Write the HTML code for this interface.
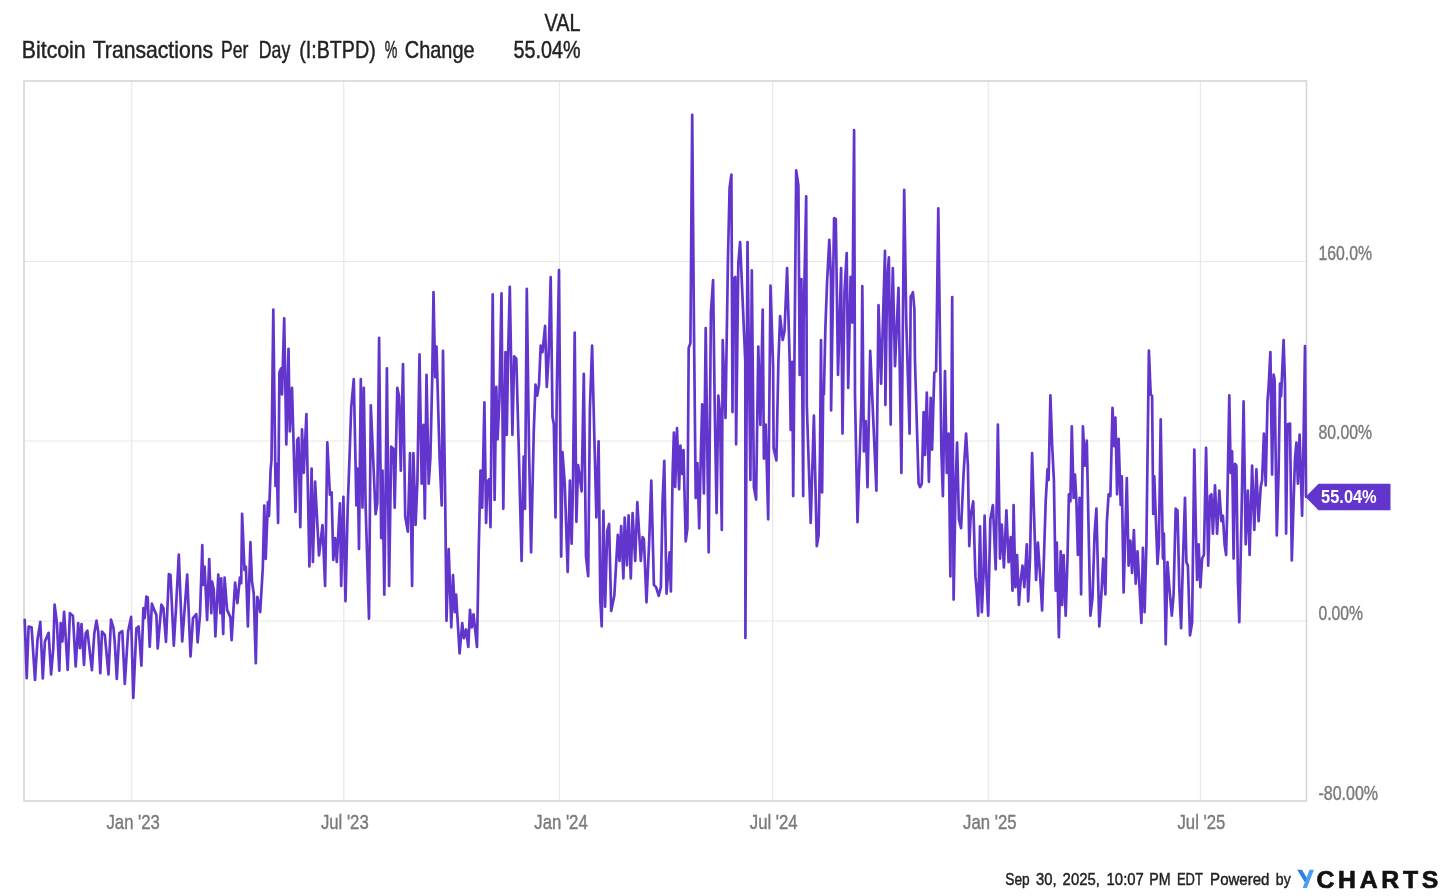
<!DOCTYPE html>
<html><head><meta charset="utf-8"><title>Bitcoin Transactions Per Day</title>
<style>
html,body{margin:0;padding:0;background:#fff;}
body{width:1446px;height:896px;overflow:hidden;}
svg{display:block;filter:blur(0.45px);}
text{font-family:"Liberation Sans",sans-serif;}
</style></head><body>
<svg width="1446" height="896" viewBox="0 0 1446 896">
<rect width="1446" height="896" fill="#ffffff"/>
<line x1="131.7" y1="81" x2="131.7" y2="801" stroke="#e8e8e8" stroke-width="1.2"/>
<line x1="343.8" y1="81" x2="343.8" y2="801" stroke="#e8e8e8" stroke-width="1.2"/>
<line x1="559.5" y1="81" x2="559.5" y2="801" stroke="#e8e8e8" stroke-width="1.2"/>
<line x1="772.7" y1="81" x2="772.7" y2="801" stroke="#e8e8e8" stroke-width="1.2"/>
<line x1="988.3" y1="81" x2="988.3" y2="801" stroke="#e8e8e8" stroke-width="1.2"/>
<line x1="1200.4" y1="81" x2="1200.4" y2="801" stroke="#e8e8e8" stroke-width="1.2"/>
<line x1="24" y1="261.5" x2="1306.5" y2="261.5" stroke="#e8e8e8" stroke-width="1.2"/>
<line x1="24" y1="441" x2="1306.5" y2="441" stroke="#e8e8e8" stroke-width="1.2"/>
<line x1="24" y1="621" x2="1306.5" y2="621" stroke="#e8e8e8" stroke-width="1.2"/>
<rect x="24" y="81" width="1282.5" height="720" fill="none" stroke="#d6d6d6" stroke-width="1.6"/>
<path d="M24.7 619.9 L26.7 678.1 L28.6 626.5 L31.6 627.4 L35.0 679.8 L37.5 639.8 L40.3 621.9 L42.8 678.4 L44.9 641.5 L48.6 632.8 L51.1 674.4 L53.3 648.1 L54.6 604.6 L56.9 623.2 L59.3 670.6 L60.7 623.2 L62.4 641.5 L64.1 611.9 L67.7 669.8 L69.9 613.2 L72.9 615.7 L75.7 666.4 L78.2 623.2 L79.9 648.1 L81.5 624.0 L84.0 664.8 L85.7 633.2 L87.4 630.7 L89.0 644.8 L91.9 670.1 L94.3 633.2 L96.5 620.7 L98.2 631.5 L100.3 673.1 L102.0 631.5 L104.8 634.8 L108.5 674.4 L111.0 619.5 L113.5 628.2 L114.8 643.2 L116.8 678.9 L119.3 633.2 L122.3 631.2 L124.8 683.9 L128.1 631.5 L131.1 616.9 L133.3 698.0 L136.4 628.2 L138.6 626.5 L141.4 665.6 L143.4 608.2 L144.7 618.2 L146.4 596.6 L147.7 597.4 L149.7 646.8 L151.9 603.6 L153.9 609.1 L156.4 614.9 L157.7 648.5 L161.4 604.6 L163.4 608.2 L166.0 641.8 L168.9 574.1 L170.5 575.0 L173.8 645.7 L176.0 608.2 L178.8 554.7 L182.2 641.5 L184.7 608.2 L187.2 574.6 L190.5 656.5 L193.0 618.2 L196.3 614.1 L197.6 642.3 L200.0 614.9 L202.3 545.2 L203.0 584.9 L204.6 566.7 L207.1 619.9 L209.2 559.1 L211.3 613.2 L212.1 581.6 L213.8 589.9 L215.4 636.5 L218.3 574.6 L220.4 613.2 L221.2 578.3 L223.2 634.0 L224.6 577.5 L227.1 609.9 L230.4 617.4 L231.6 640.2 L235.1 582.5 L237.4 603.2 L239.9 577.5 L241.2 583.3 L242.1 513.8 L244.5 570.0 L245.9 566.7 L247.9 626.5 L250.4 542.2 L252.0 581.6 L253.7 593.3 L255.8 663.1 L257.2 596.9 L257.5 597.4 L260.2 612.1 L262.8 568.0 L264.3 505.5 L265.7 559.0 L267.9 502.0 L269.0 516.0 L270.6 470.0 L271.5 460.0 L273.3 309.6 L275.5 485.9 L276.8 464.1 L278.1 522.9 L279.4 372.7 L281.1 368.3 L282.0 394.5 L284.2 318.3 L286.3 444.5 L288.5 348.8 L289.8 431.5 L292.0 387.9 L295.5 512.0 L297.2 440.2 L298.5 438.0 L300.3 527.2 L302.0 429.3 L303.8 472.8 L306.4 414.1 L309.4 566.4 L311.6 468.5 L312.9 562.0 L315.1 481.5 L319.0 555.5 L322.5 525.0 L325.1 586.0 L327.3 442.3 L329.9 494.6 L331.6 492.4 L333.3 559.9 L335.1 538.1 L336.8 562.0 L339.9 503.3 L341.2 586.0 L343.4 496.8 L345.5 601.2 L347.7 507.6 L349.5 457.6 L351.2 407.5 L353.8 379.2 L356.4 505.5 L357.7 468.5 L359.0 549.0 L360.8 379.2 L362.5 507.6 L363.8 387.9 L365.6 505.5 L369.0 618.6 L370.8 405.3 L373.4 464.1 L375.6 514.2 L377.3 503.3 L379.1 337.9 L381.2 538.1 L382.5 470.6 L384.3 594.7 L385.6 494.6 L386.9 368.3 L389.1 586.0 L391.2 446.7 L393.4 448.9 L394.7 507.6 L397.3 387.9 L399.1 396.6 L400.8 470.6 L403.0 364.0 L405.2 516.3 L407.8 531.6 L410.0 453.2 L412.1 586.0 L413.4 453.2 L415.6 525.0 L417.4 481.5 L419.5 354.4 L421.7 483.7 L423.5 424.9 L424.8 518.5 L426.5 374.9 L428.7 483.7 L430.4 457.6 L432.2 379.2 L433.5 292.2 L435.2 377.1 L436.5 346.6 L438.3 411.9 L439.6 457.6 L441.7 505.5 L443.0 350.9 L445.2 498.9 L446.5 620.8 L448.7 549.0 L451.3 627.3 L453.0 575.1 L454.8 612.1 L456.1 594.7 L459.6 653.5 L462.2 623.0 L463.9 638.2 L466.1 629.5 L468.3 646.9 L470.0 609.9 L471.8 627.3 L473.5 614.3 L477.0 646.9 L478.7 551.2 L480.5 470.6 L482.2 507.6 L484.4 402.3 L486.1 522.9 L487.4 481.5 L489.2 479.3 L490.5 527.2 L492.7 294.4 L494.6 500.0 L496.3 386.9 L497.6 439.1 L499.4 399.9 L501.5 293.3 L503.3 508.8 L505.5 352.1 L506.8 434.8 L508.1 354.2 L509.8 286.8 L512.4 434.8 L514.2 356.4 L516.3 358.6 L518.5 439.1 L521.6 561.0 L523.7 456.5 L525.0 508.8 L526.8 288.9 L529.0 447.8 L531.1 552.3 L533.8 430.4 L535.5 384.7 L537.2 395.6 L539.0 384.7 L540.7 345.5 L542.5 352.1 L545.1 325.9 L546.8 386.9 L548.6 356.4 L550.7 277.2 L552.5 417.3 L553.8 423.9 L555.5 517.5 L556.8 391.2 L559.0 270.2 L561.2 556.6 L562.5 452.2 L564.7 482.6 L567.7 571.9 L569.9 480.5 L571.6 543.6 L572.9 491.3 L574.7 332.5 L576.4 521.8 L578.1 465.2 L579.9 478.3 L581.6 491.3 L583.8 373.8 L586.0 556.6 L588.2 576.2 L589.9 408.6 L592.1 345.5 L594.3 434.8 L596.4 517.5 L598.6 441.3 L600.3 600.2 L601.7 626.3 L603.4 510.9 L605.1 606.7 L607.3 530.5 L609.1 524.0 L611.2 611.0 L614.3 595.8 L617.8 534.9 L619.5 561.0 L621.2 526.2 L623.4 578.4 L624.7 517.5 L626.9 565.3 L628.6 515.3 L630.8 578.4 L632.6 513.1 L635.2 561.0 L637.3 502.2 L640.8 561.0 L642.6 537.0 L643.9 539.2 L646.5 602.3 L649.1 543.6 L651.3 480.5 L653.9 584.9 L656.1 587.1 L658.7 595.8 L660.9 587.1 L662.6 500.0 L664.3 460.9 L666.5 593.6 L668.7 565.3 L669.6 552.3 L670.9 591.5 L672.6 473.9 L673.9 432.6 L675.2 487.0 L677.0 428.2 L679.1 489.2 L680.4 445.6 L682.2 473.9 L683.5 450.0 L685.7 541.4 L687.4 528.3 L688.7 347.7 L690.4 343.3 L692.2 114.8 L693.9 321.6 L695.7 497.9 L697.4 463.0 L699.2 528.3 L700.9 452.2 L702.2 404.3 L703.9 493.5 L705.7 328.1 L708.7 552.3 L710.9 312.9 L713.1 280.2 L714.8 413.0 L716.6 513.1 L718.3 395.6 L720.0 413.0 L721.8 530.0 L722.7 340.0 L725.5 418.0 L727.9 261.7 L729.6 187.7 L731.4 174.6 L732.5 412.1 L733.1 279.1 L735.3 276.9 L736.1 444.3 L738.3 263.9 L740.1 242.1 L745.3 361.8 L745.4 637.9 L747.5 242.1 L750.4 480.0 L751.8 270.4 L753.9 487.1 L756.1 499.6 L758.3 346.6 L760.4 425.0 L762.7 309.6 L763.9 458.6 L765.7 424.6 L768.2 519.3 L770.5 285.6 L773.1 366.2 L773.6 447.9 L776.4 460.4 L778.4 361.8 L780.1 316.1 L782.7 340.0 L784.5 331.3 L787.1 268.2 L789.7 361.8 L790.7 430.0 L792.3 361.8 L793.2 496.1 L796.2 170.3 L798.4 185.5 L799.7 374.9 L801.4 279.1 L803.2 496.1 L803.6 322.6 L806.2 196.4 L806.8 405.0 L810.7 522.9 L813.9 415.7 L816.8 546.1 L818.6 535.4 L820.0 453.2 L821.0 340.0 L822.1 492.5 L823.2 388.0 L823.9 394.3 L825.4 327.0 L827.1 281.3 L829.3 239.9 L831.0 279.1 L831.1 410.4 L834.1 218.2 L835.8 219.0 L838.0 374.9 L841.1 268.2 L842.5 433.6 L844.5 292.2 L846.7 253.0 L848.2 388.0 L850.6 276.9 L852.4 322.6 L854.1 130.2 L855.0 396.1 L857.5 522.1 L861.4 403.2 L862.3 286.0 L863.9 451.4 L865.7 421.1 L867.5 487.1 L870.2 350.9 L876.4 490.7 L878.5 305.2 L881.1 383.6 L885.0 250.8 L885.4 405.0 L887.2 279.1 L888.9 257.3 L890.7 424.6 L891.1 348.8 L892.8 268.2 L895.0 366.2 L898.5 287.8 L901.4 472.9 L904.2 189.9 L906.3 322.6 L909.6 433.6 L910.7 296.5 L912.2 294.1 L912.9 292.2 L914.4 309.3 L915.0 361.8 L918.6 483.6 L920.0 487.1 L921.8 483.6 L923.6 412.1 L925.0 455.0 L926.8 392.5 L928.9 481.8 L930.7 397.9 L932.1 449.6 L934.3 372.9 L936.1 371.1 L938.3 208.3 L941.4 451.4 L942.9 496.1 L945.0 371.1 L946.8 472.9 L948.6 433.6 L950.4 576.4 L952.2 297.1 L953.6 599.6 L955.7 480.0 L957.1 442.5 L958.9 519.3 L961.1 528.2 L963.6 472.9 L966.1 433.6 L967.9 465.7 L969.3 546.1 L970.7 515.7 L973.2 501.4 L975.4 576.4 L976.4 587.1 L978.2 615.7 L980.0 526.4 L981.8 612.1 L983.6 572.9 L984.6 515.7 L986.4 576.4 L988.2 615.7 L990.4 519.3 L992.9 505.0 L995.7 569.3 L997.9 424.6 L1000.0 558.6 L1001.8 524.6 L1003.9 567.5 L1006.4 510.4 L1008.6 562.1 L1010.7 537.1 L1012.5 590.7 L1013.6 505.0 L1015.4 587.1 L1017.1 555.0 L1018.9 605.0 L1020.7 580.0 L1022.5 565.7 L1024.3 587.1 L1026.8 544.3 L1028.2 601.4 L1030.0 558.6 L1032.1 453.2 L1034.3 522.9 L1036.1 580.0 L1037.9 542.5 L1040.4 580.0 L1042.1 610.4 L1043.9 558.6 L1045.7 501.4 L1047.5 469.3 L1048.6 480.0 L1050.4 395.4 L1052.1 444.3 L1053.9 480.0 L1055.7 590.7 L1056.8 542.5 L1058.9 637.1 L1060.7 551.4 L1062.1 605.0 L1063.6 555.0 L1065.7 615.7 L1067.5 558.6 L1068.9 494.3 L1070.4 501.4 L1071.8 426.4 L1073.6 497.9 L1075.0 474.6 L1076.4 501.4 L1077.9 555.0 L1079.6 497.9 L1081.1 594.3 L1082.9 426.4 L1085.0 465.7 L1086.8 440.7 L1088.6 530.0 L1090.4 615.7 L1092.5 597.9 L1094.6 533.6 L1096.4 508.6 L1099.3 626.4 L1101.4 594.3 L1103.2 558.6 L1105.4 594.3 L1106.8 522.9 L1108.6 494.3 L1110.4 496.1 L1112.5 407.9 L1114.3 446.1 L1115.4 417.5 L1117.1 494.3 L1118.6 438.9 L1120.7 505.0 L1121.8 476.4 L1123.6 592.5 L1125.4 530.0 L1126.8 478.2 L1128.6 565.7 L1130.4 540.7 L1132.1 572.9 L1133.9 530.0 L1135.7 583.6 L1137.5 551.4 L1139.3 583.6 L1141.4 622.9 L1142.9 547.9 L1144.6 612.1 L1146.4 544.3 L1148.9 350.7 L1150.7 394.3 L1152.1 396.1 L1153.2 513.9 L1154.3 476.4 L1157.5 563.9 L1158.9 544.3 L1160.7 419.3 L1162.9 558.6 L1163.9 533.6 L1165.7 644.3 L1167.5 562.1 L1169.3 587.1 L1171.8 615.7 L1173.6 594.3 L1175.7 508.6 L1177.5 510.4 L1179.3 587.1 L1181.1 628.2 L1182.9 562.1 L1185.0 497.9 L1186.4 562.1 L1187.9 565.7 L1190.0 635.4 L1192.1 622.9 L1194.3 449.6 L1196.1 540.7 L1197.1 580.0 L1198.6 544.3 L1200.4 587.1 L1202.1 558.6 L1203.9 555.0 L1206.1 447.9 L1208.2 565.7 L1210.0 496.1 L1211.4 494.3 L1212.9 533.6 L1215.0 485.4 L1217.1 533.6 L1219.3 490.7 L1221.4 521.1 L1222.9 515.7 L1224.6 544.3 L1226.1 555.0 L1227.1 515.7 L1229.3 395.4 L1230.7 472.9 L1232.1 451.4 L1233.6 558.6 L1235.0 463.9 L1236.4 465.7 L1237.9 580.0 L1239.3 622.1 L1241.4 522.9 L1243.6 401.4 L1245.7 544.3 L1247.9 490.7 L1249.6 555.0 L1252.1 465.7 L1254.3 530.0 L1256.4 469.3 L1258.6 521.1 L1260.7 487.1 L1262.1 480.0 L1263.9 433.6 L1265.7 485.4 L1267.5 401.4 L1268.6 387.1 L1270.4 352.1 L1272.1 474.6 L1273.6 374.6 L1274.6 380.0 L1276.8 535.4 L1278.6 472.9 L1280.0 383.6 L1281.1 396.1 L1283.6 340.0 L1285.0 383.6 L1286.1 533.6 L1287.5 424.6 L1290.0 423.6 L1291.8 560.4 L1293.6 501.4 L1295.0 458.6 L1296.4 442.5 L1297.9 483.6 L1299.6 434.6 L1302.1 515.7 L1303.6 437.1 L1305.0 346.1 L1306.0 496.8" fill="none" stroke="#6236cc" stroke-width="2.7" stroke-linejoin="round" stroke-linecap="round"/>
<text y="58.1" font-size="24" fill="#222222" stroke="#222222" stroke-width="0.45"><tspan x="21.8" textLength="63.9" lengthAdjust="spacingAndGlyphs">Bitcoin</tspan> <tspan x="92.7" textLength="120.4" lengthAdjust="spacingAndGlyphs">Transactions</tspan> <tspan x="221" textLength="27.3" lengthAdjust="spacingAndGlyphs">Per</tspan> <tspan x="258.8" textLength="31.5" lengthAdjust="spacingAndGlyphs">Day</tspan> <tspan x="299.3" textLength="76.4" lengthAdjust="spacingAndGlyphs">(I:BTPD)</tspan> <tspan x="384.7" textLength="12.6" lengthAdjust="spacingAndGlyphs">%</tspan> <tspan x="404.8" textLength="69.8" lengthAdjust="spacingAndGlyphs">Change</tspan></text>
<text x="544.6" y="30.7" font-size="23.5" fill="#222222" stroke="#222222" stroke-width="0.45" textLength="36" lengthAdjust="spacingAndGlyphs">VAL</text>
<text x="513.5" y="58.1" font-size="24" fill="#222222" stroke="#222222" stroke-width="0.45" textLength="67" lengthAdjust="spacingAndGlyphs">55.04%</text>
<text x="106.5" y="829.2" font-size="20.2" fill="#7a7a7a" stroke="#7a7a7a" stroke-width="0.4" textLength="53.4" lengthAdjust="spacingAndGlyphs">Jan '23</text>
<text x="320.9" y="829.2" font-size="20.2" fill="#7a7a7a" stroke="#7a7a7a" stroke-width="0.4" textLength="47.8" lengthAdjust="spacingAndGlyphs">Jul '23</text>
<text x="534.3" y="829.2" font-size="20.2" fill="#7a7a7a" stroke="#7a7a7a" stroke-width="0.4" textLength="53.4" lengthAdjust="spacingAndGlyphs">Jan '24</text>
<text x="749.8" y="829.2" font-size="20.2" fill="#7a7a7a" stroke="#7a7a7a" stroke-width="0.4" textLength="47.8" lengthAdjust="spacingAndGlyphs">Jul '24</text>
<text x="963.1" y="829.2" font-size="20.2" fill="#7a7a7a" stroke="#7a7a7a" stroke-width="0.4" textLength="53.4" lengthAdjust="spacingAndGlyphs">Jan '25</text>
<text x="1177.5" y="829.2" font-size="20.2" fill="#7a7a7a" stroke="#7a7a7a" stroke-width="0.4" textLength="47.8" lengthAdjust="spacingAndGlyphs">Jul '25</text>
<text x="1318.5" y="259.7" font-size="19.8" fill="#7a7a7a" stroke="#7a7a7a" stroke-width="0.4" textLength="53.5" lengthAdjust="spacingAndGlyphs">160.0%</text>
<text x="1318.5" y="439.4" font-size="19.8" fill="#7a7a7a" stroke="#7a7a7a" stroke-width="0.4" textLength="53.5" lengthAdjust="spacingAndGlyphs">80.00%</text>
<text x="1318.5" y="619.7" font-size="19.8" fill="#7a7a7a" stroke="#7a7a7a" stroke-width="0.4" textLength="44.5" lengthAdjust="spacingAndGlyphs">0.00%</text>
<text x="1318.5" y="799.5" font-size="19.8" fill="#7a7a7a" stroke="#7a7a7a" stroke-width="0.4" textLength="59.5" lengthAdjust="spacingAndGlyphs">-80.00%</text>
<path d="M1305.5 497 L1318.5 483.8 L1390.5 483.8 L1390.5 510.2 L1318.5 510.2 Z" fill="#6236cc"/>
<text x="1321.1" y="503.2" font-size="18.3" font-weight="bold" fill="#ffffff" textLength="55.6" lengthAdjust="spacingAndGlyphs">55.04%</text>
<text y="884.6" font-size="17" fill="#222222" stroke="#222222" stroke-width="0.45"><tspan x="1005.3" textLength="24.4" lengthAdjust="spacingAndGlyphs">Sep</tspan> <tspan x="1036.1" textLength="20.6" lengthAdjust="spacingAndGlyphs">30,</tspan> <tspan x="1062.6" textLength="37.3" lengthAdjust="spacingAndGlyphs">2025,</tspan> <tspan x="1106.6" textLength="37.2" lengthAdjust="spacingAndGlyphs">10:07</tspan> <tspan x="1149.3" textLength="21.4" lengthAdjust="spacingAndGlyphs">PM</tspan> <tspan x="1177.0" textLength="25.6" lengthAdjust="spacingAndGlyphs">EDT</tspan> <tspan x="1210.1" textLength="59.4" lengthAdjust="spacingAndGlyphs">Powered</tspan> <tspan x="1275.8" textLength="14.9" lengthAdjust="spacingAndGlyphs">by</tspan></text>
<path d="M1297.1 869.7 L1301.9 869.7 L1307.6 879.0 L1305.4 883.2 Z" fill="#2f7fe0"/>
<path d="M1309.5 869.7 L1314.0 869.7 L1306.8 888 L1302.7 888 Z" fill="#4a9df5"/>
<text x="1316.4" y="888" font-size="24.8" font-weight="bold" fill="#111111" stroke="#111111" stroke-width="0.7" textLength="122" lengthAdjust="spacing">CHARTS</text>
</svg></body></html>
